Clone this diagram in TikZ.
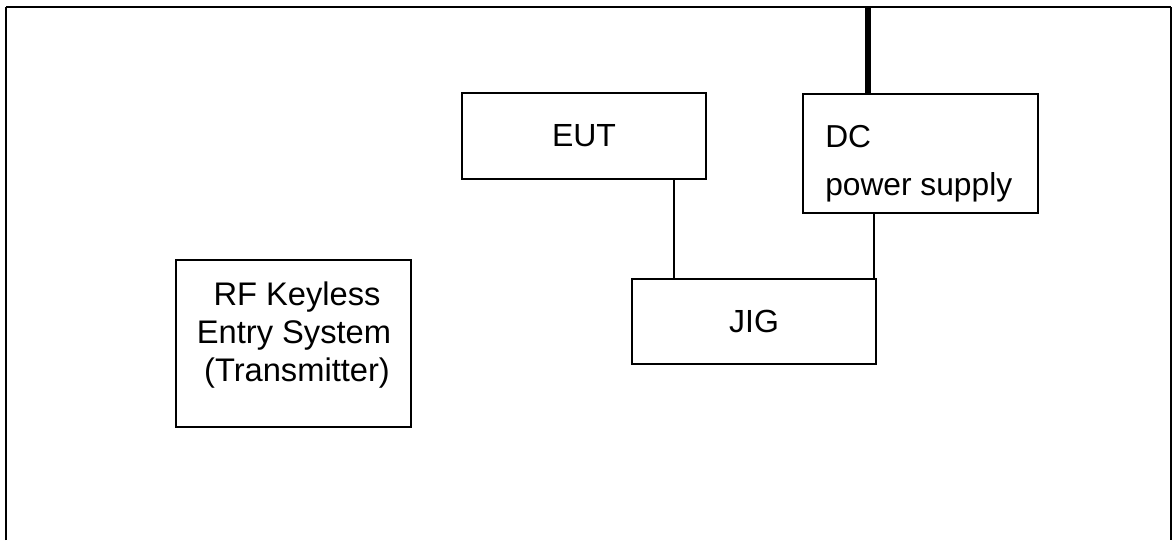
\documentclass[tikz,border=0pt]{standalone}
\usepackage{fontspec}
\setmainfont{Liberation Sans}
\begin{document}
\begin{tikzpicture}[x=0.75pt,y=-0.75pt,
  box/.style={draw=black,line width=1pt,inner sep=0pt,outer sep=0pt,fill=none},
  wire/.style={draw=black,line width=0.8pt},
  bigfont/.style={font=\fontsize{24}{29}\selectfont},
  rftext/.style={font=\fontsize{24.5}{29}\selectfont,inner sep=0pt,anchor=base},
  dctext/.style={font=\fontsize{23.8}{28}\selectfont,inner sep=0pt,anchor=base west}]
\useasboundingbox (0,0) rectangle (1173,540);
% outer frame (open at the bottom)
\coordinate (fl) at (6,540);
\coordinate (ftl) at (6,7);
\coordinate (ftr) at (1171,7);
\coordinate (fr) at (1171,540);
\draw[line width=1.5pt] (fl) -- (ftl);
\draw[line width=1.1pt] (ftl) -- (ftr);
\draw[line width=1.5pt] (ftr) -- (fr);
% boxes
\node[box,bigfont,minimum width=183pt,minimum height=64.5pt] (eut) at (584,136) {EUT};
\node[box,minimum width=176.25pt,minimum height=89.25pt] (dc) at (920.5,153.5) {};
\node[box,bigfont,minimum width=183pt,minimum height=63.75pt] (jig) at (754,321.5) {JIG};
\node[box,minimum width=176.25pt,minimum height=125.25pt] (rf) at (293.5,343.5) {};
% texts
\node[dctext] (dc1) at (825,147) {DC};
\node[dctext] (dc2) at (825,195) {power supply};
\node[rftext] (rf1) at (297,305) {RF Keyless};
\node[rftext] (rf2) at (294,343) {Entry System};
\node[rftext] (rf3) at (297,381) {(Transmitter)};
% connectors
\coordinate (c1) at (674,0);
\coordinate (c2) at (874,0);
\coordinate (c3) at (868,7);
\draw[wire] (eut.south -| c1) -- (jig.north -| c1);
\draw[wire] (dc.south -| c2) -- (jig.north -| c2);
\draw[line width=4.5pt] (c3) -- (dc.north -| c3);
\end{tikzpicture}
\end{document}
